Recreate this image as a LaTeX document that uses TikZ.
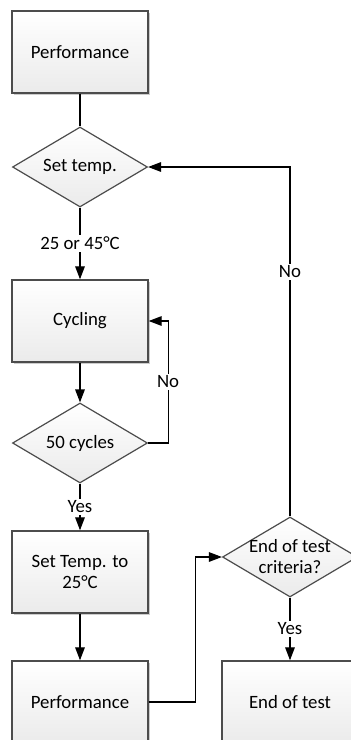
\documentclass[tikz,border=0pt]{standalone}
\usepackage{fontspec}
\setmainfont{Carlito}
\usetikzlibrary{arrows.meta, shapes.geometric, shadows}

\tikzset{
  process/.style={rectangle, draw=black!70, line width=0.7pt, top color=white, bottom color=black!8,
    minimum width=68pt, minimum height=41pt, align=center,
    drop shadow={shadow xshift=0.8pt, shadow yshift=-0.8pt, fill=black!20, opacity=1}},
  decision/.style={diamond, draw=black!70, line width=0.6pt, top color=white, bottom color=black!8,
    minimum width=67.5pt, minimum height=40pt, inner sep=0pt},
  conn/.style={line width=0.6pt},
  flow/.style={conn, -{Triangle[length=6.5pt, width=4.8pt]}},
  cond/.style={fill=white, inner sep=1pt},
}

\begin{document}
\begin{tikzpicture}[x=0.5pt, y=-0.5pt, font=\fontsize{9.4}{10.5}\selectfont]
  \useasboundingbox (0,0) rectangle (351,740);

  % linke Spalte
  \node[process] (perf1) at (80,52) {Performance};
  \node[decision, label=center:Set temp.] (settemp) at (80,167) {};
  \node[process] (cycling) at (80,321) {Cycling};
  \node[decision, label=center:50 cycles] (cycles) at (80,443) {};
  \node[process] (settemp25) at (80,572) {Set Temp. to\\25°C};
  \node[process] (perf2) at (80,702) {Performance};

  % rechte Spalte
  \node[decision, label={[align=center]center:End of test\\criteria?}] (endcrit) at (290,557) {};
  \node[process] (endtest) at (290,702) {End of test};

  % Verbindungen
  \draw[conn] (perf1) -- (settemp);
  \draw[flow] (settemp) -- node[cond]{25 or 45°C} (cycling);
  \draw[flow] (cycling) -- (cycles);
  \draw[flow] (cycles.east) -- ++(20,0) |- node[cond, pos=0.25]{No} (cycling.east);
  \draw[flow] (cycles) -- node[cond]{Yes} (settemp25);
  \draw[flow] (settemp25) -- (perf2);
  \draw[flow] (perf2.east) -- ++(47,0) |- (endcrit.west);
  \draw[flow] (endcrit.north) |- node[cond, pos=0.35]{No} (settemp.east);
  \draw[flow] (endcrit) -- node[cond]{Yes} (endtest);
\end{tikzpicture}
\end{document}
